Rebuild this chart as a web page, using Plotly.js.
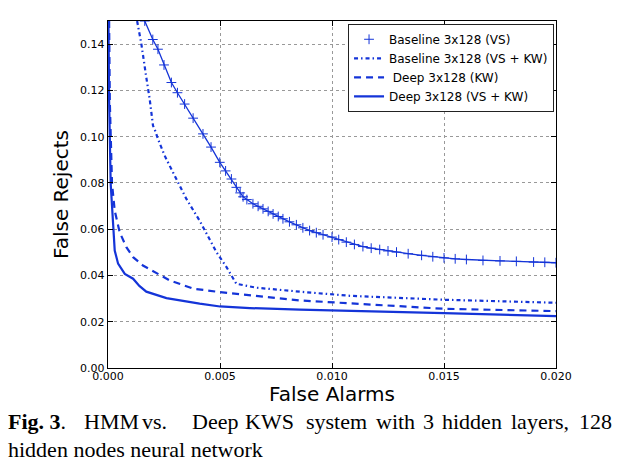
<!DOCTYPE html>
<html>
<head>
<meta charset="utf-8">
<script src="https://cdn.plot.ly/plotly-3.0.1.min.js"></script>
<style>
html,body{margin:0;padding:0;background:#fff;}
#chart{width:621px;height:461px;}
</style>
</head>
<body>
<div id="chart"></div>
<script>
// Baseline 3x128 (VS)
const baseVS_x = [0.00164,0.00200,0.00223,0.00250,0.00283,0.00310,0.00342,0.00380,0.00424,0.00460,0.00499,0.00525,0.00551,0.00573,0.00590,0.00603,0.00620,0.00647,0.00670,0.00692,0.00715,0.00737,0.00760,0.00781,0.00810,0.00841,0.00870,0.00900,0.00930,0.00960,0.01000,0.01030,0.01064,0.01100,0.01138,0.01175,0.01213,0.01250,0.01288,0.01340,0.01400,0.01450,0.01500,0.01550,0.01600,0.01674,0.01750,0.01823,0.01900,0.01950,0.02000];
const baseVS_y = [0.150,0.142,0.1378,0.131,0.1234,0.119,0.1141,0.108,0.1012,0.0955,0.0889,0.0852,0.0817,0.0781,0.0757,0.0740,0.0728,0.0710,0.0699,0.0688,0.0677,0.0666,0.0655,0.0645,0.0632,0.0619,0.0606,0.0594,0.0585,0.0576,0.0566,0.0555,0.0544,0.0534,0.0525,0.0518,0.0512,0.0506,0.0501,0.0494,0.0487,0.0481,0.0476,0.0472,0.0469,0.0465,0.0463,0.0461,0.0458,0.0457,0.0455];
// Baseline 3x128 (VS + KW)
const baseVSKW_x = [0.00130,0.00149,0.00171,0.00186,0.00201,0.00208,0.00223,0.00238,0.00253,0.00275,0.00305,0.00328,0.00350,0.00395,0.00409,0.00484,0.00529,0.00573,0.00663,0.00856,0.01080,0.01500,0.02000];
const baseVSKW_y = [0.150,0.140,0.1256,0.1163,0.1047,0.1033,0.0990,0.0954,0.0918,0.0875,0.0817,0.0774,0.0731,0.0659,0.0637,0.0501,0.0436,0.0364,0.0347,0.0330,0.0312,0.0295,0.0282];
// Deep 3x128 (KW)
const deepKW_x = [0.00005,0.00008,0.00018,0.00030,0.00052,0.00082,0.00112,0.00156,0.00223,0.00275,0.00380,0.00500,0.00856,0.01500,0.02000];
const deepKW_y = [0.150,0.1155,0.0796,0.0680,0.0587,0.0522,0.0479,0.0443,0.0407,0.0379,0.0343,0.0328,0.0292,0.0256,0.0246];
// Deep 3x128 (VS + KW)
const deepVSKW_x = [0.00002,0.00005,0.00012,0.00022,0.00030,0.00045,0.00075,0.00112,0.00140,0.00171,0.00261,0.00409,0.00500,0.00633,0.00856,0.01500,0.02000];
const deepVSKW_y = [0.150,0.1155,0.0796,0.0623,0.0508,0.0451,0.0407,0.0386,0.0355,0.0330,0.0302,0.0278,0.0266,0.0259,0.0252,0.0237,0.0224];

const legendNames = ['Baseline 3x128 (VS)','Baseline 3x128 (VS + KW)',' Deep 3x128 (KW)','Deep 3x128 (VS + KW)'];
const xTicks = [0,0.005,0.010,0.015,0.020];
const xTickText = ['0.000','0.005','0.010','0.015','0.020'];
const yTicks = [0,0.02,0.04,0.06,0.08,0.10,0.12,0.14];
const yTickText = ['0.00','0.02','0.04','0.06','0.08','0.10','0.12','0.14'];
// caption words (justified first line) and their left edges in pixels
const captionWords1 = ['<b>Fig. 3</b>.','HMM','vs.','Deep','KWS','system','with','3','hidden','layers,','128'];
const captionWordPx1 = [7,83,141,191,244,305,375,422,441,510,578];
const captionLine2 = 'hidden nodes neural network';

const BLUE = '#1434d8';
const PLOT_L = 108.3, PLOT_W = 447.4;
const toPaperX = px => (px - PLOT_L) / PLOT_W;

const traces = [
  {x: baseVS_x, y: baseVS_y, mode:'lines', line:{color:BLUE, width:1.3}, showlegend:false, hoverinfo:'skip'},
  {x: baseVS_x, y: baseVS_y, mode:'markers', name: legendNames[0],
   marker:{symbol:'cross-thin-open', size:7, color:BLUE, line:{color:BLUE, width:1}}},
  {x: baseVSKW_x, y: baseVSKW_y, mode:'lines', name: legendNames[1],
   line:{color:BLUE, width:2.2, dash:'4px,3px,1.5px,3px'}},
  {x: deepKW_x, y: deepKW_y, mode:'lines', name: legendNames[2],
   line:{color:BLUE, width:2.2, dash:'7px,5px'}},
  {x: deepVSKW_x, y: deepVSKW_y, mode:'lines', name: legendNames[3],
   line:{color:BLUE, width:2.2}}
];

const axisCommon = {
  showline:true, linecolor:'#000', linewidth:1.3, mirror:'ticks',
  ticks:'inside', ticklen:5, tickcolor:'#000', tickwidth:1,
  showgrid:true, gridcolor:'#999', griddash:'dot', gridwidth:1,
  zeroline:false,
  tickfont:{family:'DejaVu Sans', size:11, color:'#000'}
};

const annotations = captionWords1.map((w, i) => ({
  xref:'paper', yref:'paper', x: toPaperX(captionWordPx1[i]), y:-0.154,
  xanchor:'left', yanchor:'middle', showarrow:false, text:w, borderpad:0,
  font:{family:'Liberation Serif', size:22, color:'#000'}
}));
annotations.push({xref:'paper', yref:'paper', x: toPaperX(7), y:-0.234, xanchor:'left', yanchor:'middle', showarrow:false,
  text:captionLine2, borderpad:0, font:{family:'Liberation Serif', size:22, color:'#000'}});

const layout = {
  width:621, height:461,
  margin:{l:108.3, r:65.3, t:21, b:93.3},
  paper_bgcolor:'#fff', plot_bgcolor:'#fff',
  font:{family:'DejaVu Sans', color:'#000'},
  xaxis: Object.assign({}, axisCommon, {
    range:[0,0.02], tickvals:xTicks, ticktext:xTickText, ticklabelstandoff:-3,
    title:{text:'False Alarms', font:{family:'DejaVu Sans', size:20, color:'#000'}, standoff:2}
  }),
  yaxis: Object.assign({}, axisCommon, {
    range:[0,0.15], tickvals:yTicks, ticktext:yTickText,
    title:{text:'False Rejects', font:{family:'DejaVu Sans', size:20, color:'#000'}, standoff:6}
  }),
  legend:{x:0.5358, y:0.992, xanchor:'left', yanchor:'top',
    bgcolor:'#fff', bordercolor:'#222', borderwidth:1,
    font:{family:'DejaVu Sans', size:12, color:'#000'}, tracegroupgap:0},
  annotations: annotations
};

Plotly.newPlot('chart', traces, layout, {displayModeBar:false, staticPlot:true});
</script>
</body>
</html>
